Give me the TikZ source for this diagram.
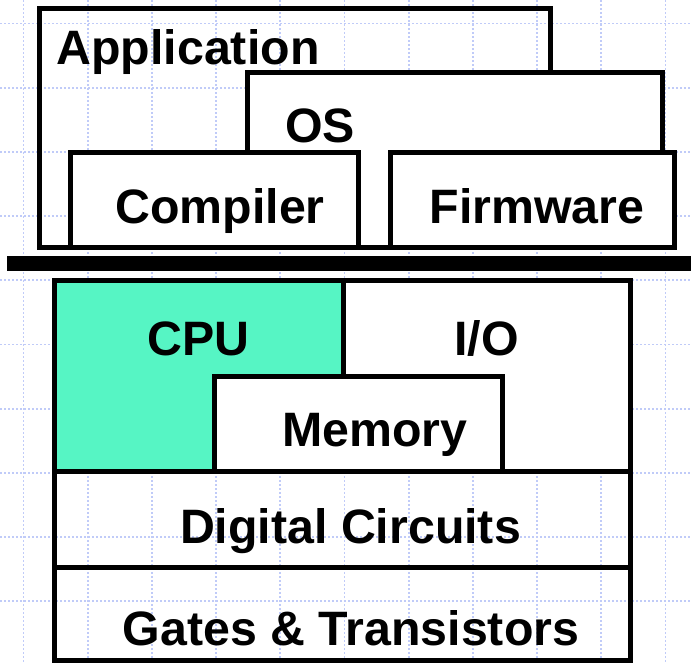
\documentclass[tikz,border=0pt]{standalone}
\usepackage{fontspec}
\setmainfont{Liberation Sans}
\usepackage{xcolor}
\usepackage{tikz}
\definecolor{gridblue}{RGB}{192,203,248}
\definecolor{cpugreen}{RGB}{86,245,196}
\tikzset{
  layer/.style={line width=5pt, draw=black},
  lbl/.style={font=\bfseries\fontsize{48.3}{50}\selectfont, anchor=base, inner sep=0pt},
  gridline/.style={line width=1.8pt, gridblue, dash pattern=on 2pt off 2pt}
}

\begin{document}
\begin{tikzpicture}[x=1pt,y=-1pt]
  \useasboundingbox (0,0) rectangle (691,662);
  % background grid
  \foreach \k in {0,...,10} \draw[gridline] (23.5+64.2*\k,0)--(23.5+64.2*\k,662);
  \foreach \k in {0,...,10} \draw[gridline] (0,23.5+64.2*\k)--(691,23.5+64.2*\k);
  % software side
  \draw[layer] (39,8.5) rectangle (550.5,247.5);
  \draw[layer, fill=white] (247.5,72) rectangle (662.5,247.5);
  \draw[layer, fill=white] (70.5,152) rectangle (358.5,247.5);
  \draw[layer, fill=white] (390.5,152) rectangle (674.5,247.5);
  \node[lbl] at (188,64)   (app) {Application};
  \node[lbl] at (320,142)  (os) {OS};
  \node[lbl] at (220,223)  (comp) {Compiler};
  \node[lbl] at (537,223)  (firm) {Firmware};
  % dividing bar
  \coordinate (barL) at (7,263.5);
  \coordinate (barR) at (691,263.5);
  \draw[line width=15pt] (barL)--(barR);
  % hardware side
  \draw[layer, fill=cpugreen] (54.5,280.5) rectangle (343,471.5);
  \draw[layer, fill=white] (343,280.5) rectangle (630.5,471.5);
  \draw[layer, fill=white] (214.5,376) rectangle (502,471.5);
  \draw[layer] (54.5,471.5) rectangle (630.5,567.5);
  \draw[layer] (54.5,567.5) rectangle (630.5,660);
  \node[lbl] at (198.5,355) (cpu) {CPU};
  \node[lbl] at (486.5,355) (io) {I/O};
  \node[lbl] at (375,446.5) (mem) {Memory};
  \node[lbl] at (350.5,543) (dig) {Digital Circuits};
  \node[lbl] at (351,645)   (gates) {Gates \& Transistors};
\end{tikzpicture}
\end{document}
